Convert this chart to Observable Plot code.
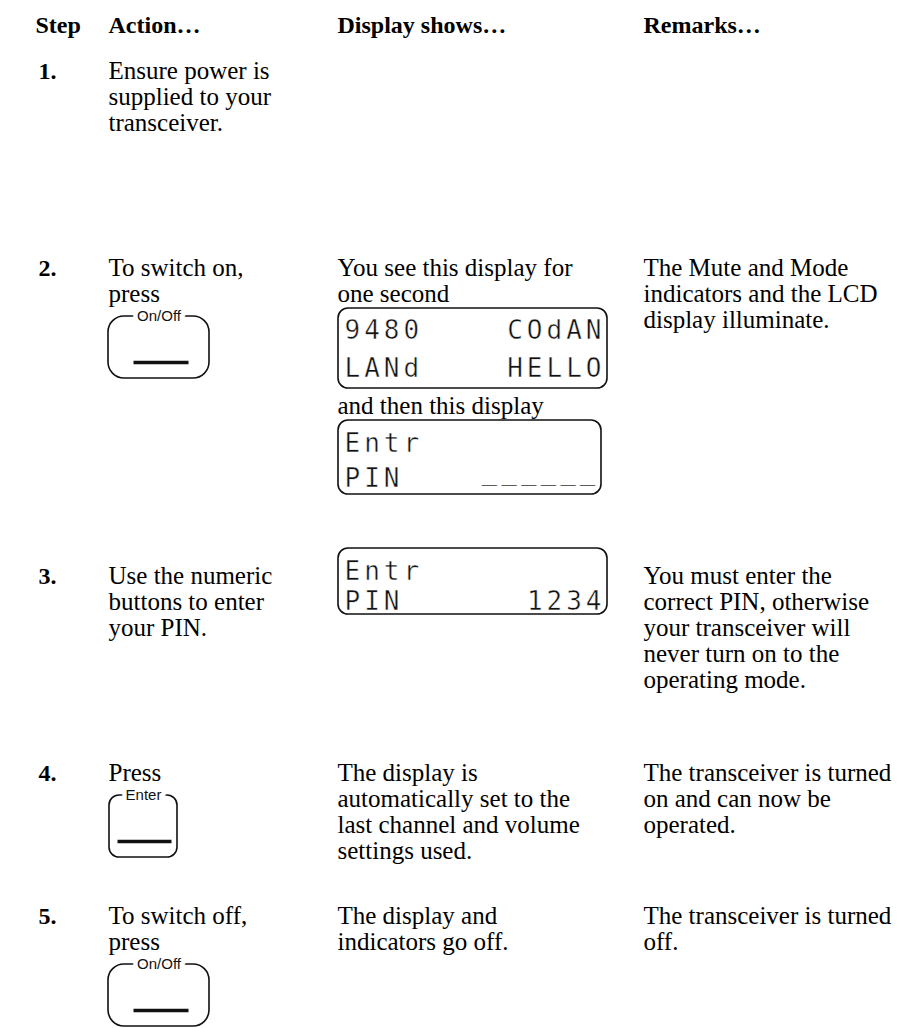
<!DOCTYPE html>
<html>
<head>
<meta charset="utf-8">
<script src="https://cdn.jsdelivr.net/npm/d3@7"></script>
<script src="https://cdn.jsdelivr.net/npm/@observablehq/plot@0.6"></script>
<style>
  html, body { margin: 0; padding: 0; background: #fff; }
  #chart svg { display: block; }
</style>
</head>
<body>
<div id="chart"></div>
<script>
// ---------- content ----------
const headers = ["Step", "Action…", "Display shows…", "Remarks…"];
const stepNumbers = ["1.", "2.", "3.", "4.", "5."];
const actionLines = [
  ["Ensure power is", "supplied to your", "transceiver."],
  ["To switch on,", "press"],
  ["Use the numeric", "buttons to enter", "your PIN."],
  ["Press"],
  ["To switch off,", "press"]
];
const displayLines = [
  [],
  ["You see this display for", "one second"],
  [],
  ["The display is", "automatically set to the", "last channel and volume", "settings used."],
  ["The display and", "indicators go off."]
];
const displayBetween = ["and then this display"];
const remarkLines = [
  [],
  ["The Mute and Mode", "indicators and the LCD", "display illuminate."],
  ["You must enter the", "correct PIN, otherwise", "your transceiver will", "never turn on to the", "operating mode."],
  ["The transceiver is turned", "on and can now be", "operated."],
  ["The transceiver is turned", "off."]
];
const buttonLabels = ["On/Off", "Enter", "On/Off"];
const buttonSteps = [2, 4, 5];
const lcdLeft = [["9480", "LANd"], ["Entr", "PIN"], ["Entr", "PIN"]];
const lcdRight = [["COdAN", "HELLO"], ["", "______"], ["", "1234"]];

// ---------- layout ----------
const W = 903, H = 1028;
const colX = [38, 108, 337, 643];
const headerX = [35, 108, 337, 643];
const headerY = 32;
const rowY = [78, 275, 583, 780, 923];
const lineH = 26;
const betweenY = 413;
const btnGap = 15, btnH = 62, barOffset = 46;
const btnShape = {
  "On/Off": {x1: 108, x2: 209, r: 16, bar: [133, 188]},
  "Enter": {x1: 109, x2: 177, r: 10, bar: [117, 171]}
};
const lcdBox = [
  {x1: 338, x2: 607, y1: 308, y2: 388, rows: [338, 376]},
  {x1: 338, x2: 601, y1: 420, y2: 494, rows: [451, 486]},
  {x1: 338, x2: 607, y1: 548, y2: 614, rows: [579, 609]}
];
const lcdSpacing = 4;

// ---------- tables built from the content ----------
const headerData = headers.map((t, i) => ({t, x: headerX[i], y: headerY}));
const stepData = stepNumbers.map((t, i) => ({t, x: colX[0], y: rowY[i]}));
function linesOf(arr, col) {
  return arr.flatMap((lines, i) => lines.map((t, j) => ({t, x: colX[col], y: rowY[i] + j * lineH})));
}
const bodyData = [
  ...linesOf(actionLines, 1),
  ...linesOf(displayLines, 2),
  ...displayBetween.map(t => ({t, x: colX[2], y: betweenY})),
  ...linesOf(remarkLines, 3)
];
const btnData = buttonLabels.map((label, i) => {
  const s = buttonSteps[i] - 1;
  const lastBaseline = rowY[s] + (actionLines[s].length - 1) * lineH;
  const y1 = lastBaseline + btnGap;
  const shp = btnShape[label];
  return {label, x1: shp.x1, x2: shp.x2, r: shp.r, y1, y2: y1 + btnH, bx1: shp.bar[0], bx2: shp.bar[1], by: y1 + barOffset};
});
const lcdFrames = lcdBox.map((b, i) => ({...b, i}));
const lcdTextL = lcdLeft.flatMap((rows, i) => rows.map((t, j) => ({t, x: lcdBox[i].x1 + 6, y: lcdBox[i].rows[j]})));
const lcdTextR = lcdRight.flatMap((rows, i) => rows.map((t, j) => ({t, x: lcdBox[i].x2 - 2, y: lcdBox[i].rows[j]}))).filter(d => d.t);
const isBlank = d => /^_+$/.test(d.t);

const serif = "'Liberation Serif', 'Times New Roman', serif";
const lcdFont = "'DejaVu Sans Mono', monospace";
const lcdStyle = {textAnchor: "start", lineAnchor: "bottom", fontFamily: lcdFont, fontSize: 26, fill: "#111", stroke: "white", strokeWidth: 0.45, paintOrder: "fill"};

const plot = Plot.plot({
  width: W, height: H, margin: 0,
  x: {domain: [0, W], range: [0, W], axis: null},
  y: {domain: [0, H], range: [0, H], axis: null},
  marks: [
    // LCD frames
    Plot.rect(lcdFrames, {x1: "x1", x2: "x2", y1: "y1", y2: "y2", fill: "none", stroke: "#111", strokeWidth: 1.6, rx: 10}),
    // buttons
    ...btnData.map(b => Plot.rect([b], {x1: "x1", x2: "x2", y1: "y1", y2: "y2", fill: "none", stroke: "#111", strokeWidth: 1.6, rx: b.r})),
    Plot.link(btnData, {x1: "bx1", x2: "bx2", y1: "by", y2: "by", stroke: "#111", strokeWidth: 3.5}),
    Plot.text(btnData, {x: d => (d.x1 + d.x2) / 2, y: "y1", text: "label", fontFamily: "'Liberation Sans', Arial, sans-serif", fontSize: 15, fill: "#111", stroke: "white", strokeWidth: 9, lineAnchor: "middle"}),
    // headers
    Plot.text(headerData, {x: "x", y: "y", text: "t", textAnchor: "start", lineAnchor: "bottom", fontFamily: serif, fontWeight: "bold", fontSize: 24, fill: "#000"}),
    Plot.text(stepData, {x: "x", y: "y", text: "t", textAnchor: "start", lineAnchor: "bottom", fontFamily: serif, fontWeight: "bold", fontSize: 24, fill: "#000"}),
    Plot.text(bodyData, {x: "x", y: "y", text: "t", textAnchor: "start", lineAnchor: "bottom", fontFamily: serif, fontSize: 25, fill: "#000"}),
    // LCD characters
    Plot.text(lcdTextL, {x: "x", y: "y", text: "t", ...lcdStyle}),
    Plot.text(lcdTextR.filter(d => !isBlank(d)), {x: "x", y: "y", text: "t", ...lcdStyle, textAnchor: "end"}),
    Plot.text(lcdTextR.filter(isBlank), {x: "x", y: "y", text: "t", ...lcdStyle, textAnchor: "end", dy: -7})
  ]
});
document.getElementById("chart").appendChild(plot);
// spread the LCD characters like a segment display
const lcdStrings = new Set([...lcdLeft.flat(), ...lcdRight.flat()].filter(Boolean));
d3.select(plot).selectAll("text")
  .filter(function () { return lcdStrings.has(this.textContent); })
  .attr("letter-spacing", lcdSpacing);
</script>
</body>
</html>
